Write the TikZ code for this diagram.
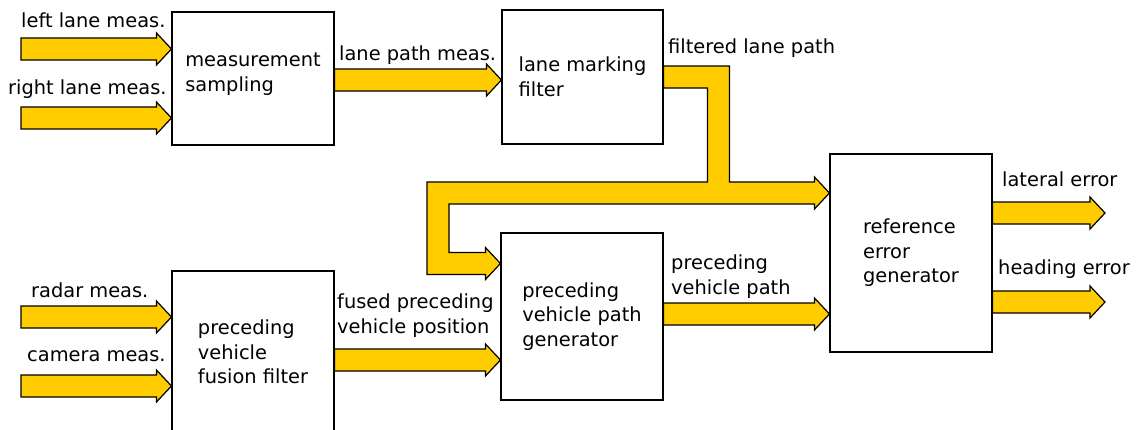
\documentclass[tikz,border=0pt]{standalone}
\usepackage{fontspec}
\setmainfont{DejaVu Sans}
\usetikzlibrary{calc}
\definecolor{fatyellow}{HTML}{FFCC00}
\newcommand\fatarrow[2]{%
  \draw[fat] let \p1=(#1), \p2=(#2) in
    (\x1,\y1+11pt) -- (\x2-15pt,\y1+11pt) -- (\x2-15pt,\y1+16pt) -- (\x2,\y1)
    -- (\x2-15pt,\y1-16pt) -- (\x2-15pt,\y1-11pt) -- (\x1,\y1-11pt) -- cycle;}
\begin{document}
\begin{tikzpicture}[x=1pt,y=-1pt,
  every node/.style={font=\fontsize{19.4}{24.5}\selectfont},
  box/.style={draw=black,line width=1.1pt,fill=white,inner sep=0pt,align=left},
  btxt/.style={inner sep=0pt,align=left},
  lbl/.style={inner sep=0pt,align=left,anchor=base west},
  fat/.style={draw=black,fill=fatyellow,line width=1.2pt,line join=miter}]
\useasboundingbox (0,0) rectangle (1138,429);

% boxes
\node[box,minimum width=162pt,minimum height=133pt] (ms) at (253,78.5) {};
\node[btxt] (ms-t) at ($(ms.center)+(0,-4.5)$) {measurement\\sampling};
\node[box,minimum width=161pt,minimum height=134pt] (lmf) at (582.5,77) {lane marking\\filter};
\node[box,minimum width=162pt,minimum height=162pt] (pvff) at (253,352) {preceding\\vehicle\\fusion filter};
\node[box,minimum width=162pt,minimum height=167pt] (pvpg) at (582,316.5) {preceding\\vehicle path\\generator};
\node[box,minimum width=162pt,minimum height=198pt] (ref) at (911,253) {reference\\error\\generator};

% arrow end points
\coordinate (ll) at (21,49);
\coordinate (rl) at (21,118);
\coordinate (rd) at (21,317);
\coordinate (cm) at (21,386);
\coordinate (lpm) at (ms.east |- 0,80);
\coordinate (fpv) at (pvff.east |- 0,360);
\coordinate (pvp) at (pvpg.east |- 0,314);
\coordinate (le0) at (ref.east |- 0,213);
\coordinate (le1) at (1105,213);
\coordinate (he0) at (ref.east |- 0,302);
\coordinate (he1) at (1105,302);
\coordinate (in1) at (ref.west |- 0,193);
\coordinate (in2) at (pvpg.west |- 0,263.5);
\coordinate (bendA) at (718.5,0);
\coordinate (bendB) at (438,0);

% fat arrows
\fatarrow{ll}{ms.west}
\fatarrow{rl}{ms.west}
\fatarrow{rd}{pvff.west}
\fatarrow{cm}{pvff.west}
\fatarrow{lpm}{lmf.west}
\fatarrow{fpv}{pvpg.west}
\fatarrow{pvp}{ref.west}
\fatarrow{le0}{le1}
\fatarrow{he0}{he1}

% branching arrow: filtered lane path
\draw[fat] let \p1=(lmf.east), \p2=(in1), \p3=(in2), \p4=(bendA), \p5=(bendB) in
  (\x1,\y1+11pt) -- (\x4+11pt,\y1+11pt) -- (\x4+11pt,\y2+11pt)
  -- (\x2-15pt,\y2+11pt) -- (\x2-15pt,\y2+16pt) -- (\x2,\y2)
  -- (\x2-15pt,\y2-16pt) -- (\x2-15pt,\y2-11pt)
  -- (\x5+11pt,\y2-11pt) -- (\x5+11pt,\y3+11pt)
  -- (\x3-15pt,\y3+11pt) -- (\x3-15pt,\y3+16pt) -- (\x3,\y3)
  -- (\x3-15pt,\y3-16pt) -- (\x3-15pt,\y3-11pt)
  -- (\x5-11pt,\y3-11pt) -- (\x5-11pt,\y2+11pt)
  -- (\x4-11pt,\y2+11pt) -- (\x4-11pt,\y1-11pt) -- (\x1,\y1-11pt) -- cycle;

% labels (multi-line: base = last line)
\node[lbl] (t-ll) at (21,27) {left lane meas.};
\node[lbl] (t-rl) at (8,94) {right lane meas.};
\node[lbl] (t-lpm) at (339,60) {lane path meas.};
\node[lbl] (t-flp) at (668,53) {filtered lane path};
\node[lbl] (t-rd) at (31,297) {radar meas.};
\node[lbl] (t-cm) at (27,361) {camera meas.};
\node[lbl] (t-fpv) at (337,333) {fused preceding\\vehicle position};
\node[lbl] (t-pvp) at (671,294) {preceding\\vehicle path};
\node[lbl] (t-le) at (1002,186) {lateral error};
\node[lbl] (t-he) at (998,274) {heading error};
\end{tikzpicture}
\end{document}
